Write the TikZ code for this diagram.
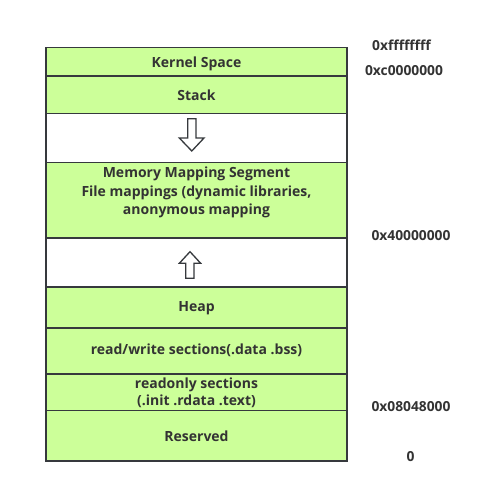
\documentclass[tikz,border=0pt]{standalone}
\usepackage{fontspec}
\setmainfont{Open Sans}
\definecolor{segfill}{HTML}{CCFF99}
\definecolor{segline}{HTML}{36393D}
\definecolor{txt}{HTML}{333333}
\begin{document}
\begin{tikzpicture}[x=1pt,y=-1pt,
  seg/.style={draw=segline, line width=1.6pt, fill=segfill, minimum width=301pt, inner sep=0pt, outer sep=0pt},
  gap/.style={seg, fill=white},
  lbl/.style={font=\bfseries\fontsize{14}{16}\selectfont, text=txt, align=center, inner sep=0pt},
  addr/.style={font=\bfseries\fontsize{13.8}{15}\selectfont, text=txt, inner sep=0pt},
  hollow/.style={draw=segline, line width=1.3pt, fill=white, line join=miter}]
\useasboundingbox (0,0) rectangle (490,480);
\node[seg, minimum height=28.4pt] (kernel) at (196.5,61.5) {};
\node[seg, minimum height=37.6pt] (stack) at (196.5,94.5) {};
\node[gap, minimum height=49pt] (gap1) at (196.5,137.8) {};
\node[seg, minimum height=75.4pt] (mmap) at (196.5,200) {};
\node[gap, minimum height=49pt] (gap2) at (196.5,262.2) {};
\node[seg, minimum height=41pt] (heap) at (196.5,307.2) {};
\node[seg, minimum height=46pt] (rw) at (196.5,350.7) {};
\node[seg, minimum height=37pt] (ro) at (196.5,392.2) {};
\node[seg, minimum height=50.3pt] (reserved) at (196.5,435.8) {};
% labels
\node[lbl] (tkernel) at ([yshift=-2pt]kernel.center) {Kernel Space};
\node[lbl] (tstack) at ([yshift=-0.5pt]stack.center) {Stack};
\node[lbl, font=\bfseries\fontsize{14}{18.5}\selectfont, anchor=north] (tmmap) at ([yshift=-4.5pt]mmap.north)
  {Memory Mapping Segment\\File mappings (dynamic libraries,\\anonymous mapping};
\node[lbl] (theap) at ([yshift=-0.5pt]heap.center) {Heap};
\node[lbl] (trw) at (rw.center) {read/write sections(.data .bss)};
\node[lbl, font=\bfseries\fontsize{14}{17}\selectfont] (tro) at ([yshift=-0.5pt]ro.center) {readonly sections\\(.init .rdata .text)};
\node[lbl] (treserved) at ([yshift=-0.5pt]reserved.center) {Reserved};
% arrows
\draw[hollow] (187.7,118.7) -- (196,118.7) -- (196,138) -- (204,138) -- (191.8,151) -- (179.3,138) -- (187.7,138) -- cycle;
\draw[hollow] (185.7,278.3) -- (194,278.3) -- (194,263.3) -- (200.7,263.3) -- (190,251.7) -- (179.3,263.3) -- (185.7,263.3) -- cycle;
% addresses
\node[addr] (a1) at (401.5,45.7) {0xffffffff};
\node[addr] (a2) at (404,70.5) {0xc0000000};
\node[addr] (a3) at (411,235.5) {0x40000000};
\node[addr] (a4) at (411,407) {0x08048000};
\node[addr] (a5) at (410.5,457) {0};
\end{tikzpicture}
\end{document}
